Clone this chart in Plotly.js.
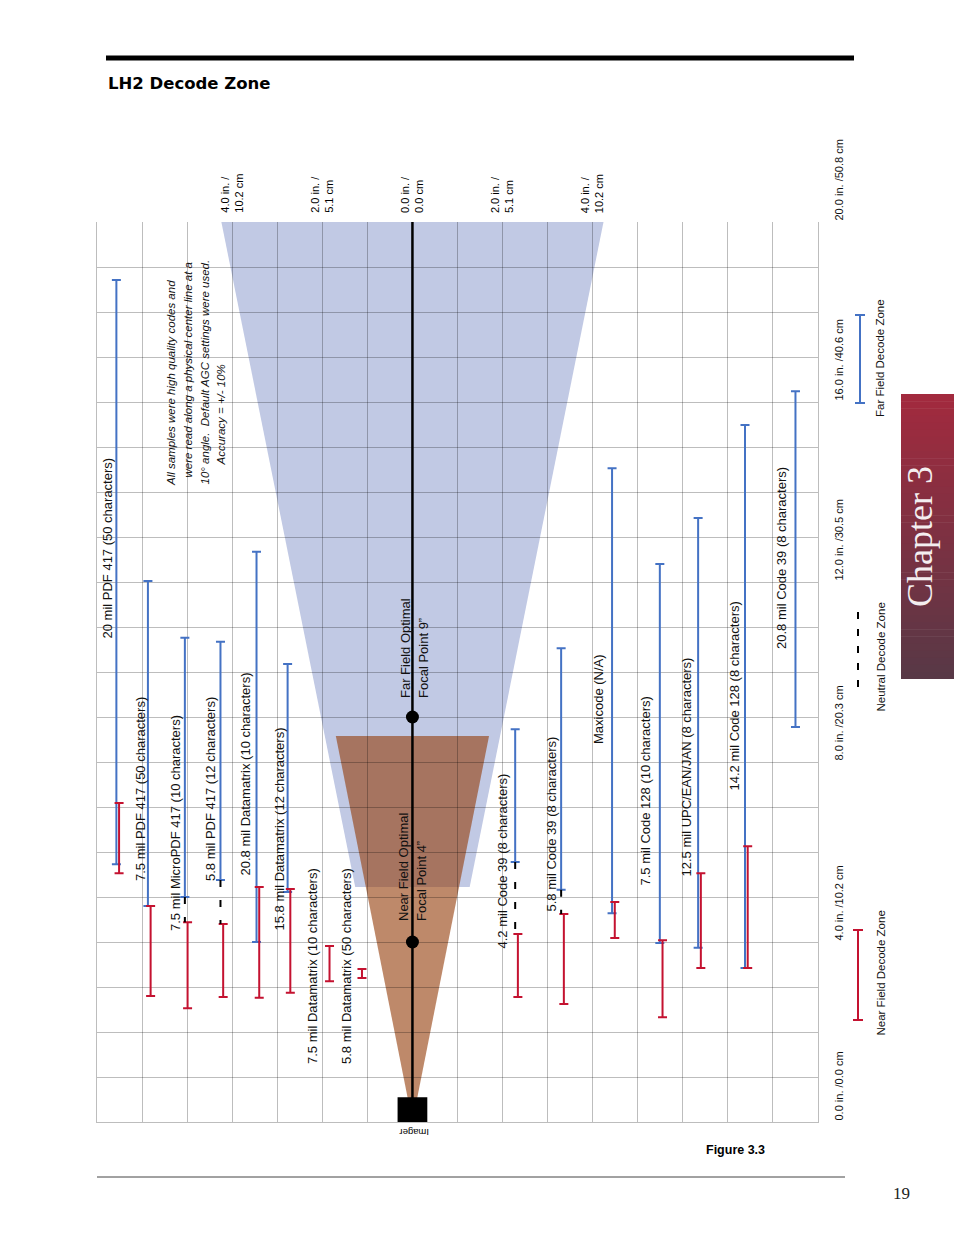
<!DOCTYPE html>
<html>
<head>
<meta charset="utf-8">
<script src="https://cdn.plot.ly/plotly-3.0.1.min.js"></script>
<style>
html,body{margin:0;padding:0;background:#fff;}
#chart{width:954px;height:1235px;}
</style>
</head>
<body>
<div id="chart"></div>
<script>
// ================= DATA (inches) =================
const codeNames = [
  '20 mil PDF 417 (50 characters)',
  '7.5 mil PDF 417 (50 characters)',
  '7.5 mil MicroPDF 417 (10 characters)',
  '5.8 mil PDF 417 (12 characters)',
  '20.8 mil Datamatrix (10 characters)',
  '15.8 mil Datamatrix (12 characters)',
  '7.5 mil Datamatrix (10 characters)',
  '5.8 mil Datamatrix (50 characters)',
  '4.2 mil Code 39 (8 characters)',
  '5.8 mil Code 39 (8 characters)',
  'Maxicode (N/A)',
  '7.5 mil Code 128 (10 characters)',
  '12.5 mil UPC/EAN/JAN (8 characters)',
  '14.2 mil Code 128 (8 characters)',
  '20.8 mil Code 39 (8 characters)'
];
// lateral lane of each code's range bar
const lanePos = [-6.57, -5.87, -5.05, -4.26, -3.46, -2.77, -1.90, -1.18, 2.28, 3.30, 4.43, 5.49, 6.34, 7.38, 8.50];
// far field decode zone (min / max distance)
const farMin  = [5.73, 4.80, 5.00, 5.38, 4.00, 5.11, null, null, 5.78, 5.16, 4.64, 3.98, 3.87, 3.42, 8.78];
const farMax  = [18.71, 12.02, 10.76, 10.67, 12.67, 10.18, null, null, 8.73, 10.53, 14.53, 12.40, 13.42, 15.49, 16.24];
// near field decode zone
const nearMin = [5.53, 2.80, 2.53, 2.78, 2.76, 2.87, 3.13, 3.20, 2.78, 2.62, 4.09, 2.33, 3.42, 3.42, null];
const nearMax = [7.09, 4.80, 4.44, 4.40, 5.22, 5.18, 3.91, 3.40, 4.18, 4.62, 4.89, 4.04, 5.53, 6.13, null];
// neutral decode zone present between near max and far min
const hasNeutral = [false, false, true, true, false, false, false, false, true, true, false, false, false, false, false];

const focalDist = [4, 9];
const focalLine1 = ['Near Field Optimal', 'Far Field Optimal'];
const focalLine2 = ['Focal Point 4\u201D', 'Focal Point 9\u201D'];

// field-of-view cones: distance and half width
const farConeDist = [20, 5.22];
const farConeHalf = [4.24, 1.27];
const nearConeDist = [8.58, 0];
const nearConeHalf = [1.70, 0];

const imagerDepth = 0.55;
const imagerHalf = 0.33;
const maxDist = 20;

const distTickVals = [0, 4, 8, 12, 16, 20];
const distTickText = ['0.0 in. /0.0 cm', '4.0 in. /10.2 cm', '8.0 in. /20.3 cm', '12.0 in. /30.5 cm', '16.0 in. /40.6 cm', '20.0 in. /50.8 cm'];
const latTickVals = [-4, -2, 0, 2, 4];
const latTickText = ['4.0 in. /<br>10.2 cm', '2.0 in. /<br>5.1 cm', '0.0 in. /<br>0.0 cm', '2.0 in. /<br>5.1 cm', '4.0 in. /<br>10.2 cm'];

const legendNames = ['Far Field Decode Zone', 'Neutral Decode Zone', 'Near Field Decode Zone'];
const noteLines = [
  'All samples were high quality codes and',
  'were read along a physical center line at a',
  '10\u00B0 angle.  Default AGC settings were used.',
  'Accuracy = +/- 10%'
];

// ================= STYLE / LAYOUT =================
const BLUE = '#4472c4';
const RED = '#c41230';
const GRID = 'rgba(0,0,0,0.26)';
const FONT = 'Liberation Sans, Arial, sans-serif';
const L = 97, R = 818, T = 222, B = 1122;
const pX = p => (p - L) / (R - L);
const pY = p => (B - p) / (B - T);
const nearShift = 0.06;

const labelPx = [107, 140, 175, 210, 245, 279, 312, 346, 502, 551, 598, 645, 686, 734, 781];
const labelPy = [640, 882, 932, 882, 877, 932, 1065, 1065, 950, 913, 745, 887, 878, 792, 650];

const traces = [];
traces.push({
  type: 'scatter', mode: 'markers', x: lanePos, y: farMin,
  marker: {size: 1, opacity: 0},
  error_y: {type: 'data', symmetric: false,
    array: farMax.map((v, i) => v == null ? null : v - farMin[i]),
    arrayminus: farMin.map(v => v == null ? null : 0),
    color: BLUE, thickness: 2, width: 4.5},
  hoverinfo: 'skip', showlegend: false
});
traces.push({
  type: 'scatter', mode: 'markers', x: lanePos.map(v => v + nearShift), y: nearMin,
  marker: {size: 1, opacity: 0},
  error_y: {type: 'data', symmetric: false,
    array: nearMax.map((v, i) => v == null ? null : v - nearMin[i]),
    arrayminus: nearMin.map(v => v == null ? null : 0),
    color: RED, thickness: 2, width: 4.5},
  hoverinfo: 'skip', showlegend: false
});
const nx = [], ny = [];
hasNeutral.forEach((h, i) => {
  if (h) { nx.push(lanePos[i], lanePos[i], null); ny.push(farMin[i], nearMax[i], null); }
});
traces.push({type: 'scatter', mode: 'lines', x: nx, y: ny,
  line: {color: '#000', width: 2, dash: '7px,13px'}, hoverinfo: 'skip', showlegend: false});
// center line and focal points
traces.push({type: 'scatter', mode: 'lines', x: [0, 0], y: [0, maxDist],
  line: {color: '#000', width: 2.5}, hoverinfo: 'skip', showlegend: false});
traces.push({type: 'scatter', mode: 'markers', x: focalDist.map(() => 0), y: focalDist,
  marker: {color: '#000', size: 13}, hoverinfo: 'skip', showlegend: false});

function conePath(d, h) {
  return 'M ' + (-h[0]) + ',' + d[0] + ' L ' + h[0] + ',' + d[0] +
         ' L ' + h[1] + ',' + d[1] + ' L ' + (-h[1]) + ',' + d[1] + ' Z';
}
const shapes = [
  {type: 'path', xref: 'x', yref: 'y', layer: 'below', path: conePath(farConeDist, farConeHalf),
   fillcolor: '#c1c9e4', line: {width: 0}},
  {type: 'path', xref: 'x', yref: 'y', layer: 'below', path: conePath(nearConeDist, nearConeHalf),
   fillcolor: 'rgba(150,64,14,0.62)', line: {width: 0}},
  {type: 'rect', xref: 'x', yref: 'y', layer: 'above', x0: -imagerHalf, x1: imagerHalf, y0: 0, y1: imagerDepth,
   fillcolor: '#000', line: {width: 0}},
  // page decorations
  {type: 'rect', xref: 'paper', yref: 'paper', x0: pX(106), x1: pX(854), y0: pY(60.5), y1: pY(55.5),
   fillcolor: '#000', line: {width: 0}},
  {type: 'line', xref: 'paper', yref: 'paper', x0: pX(97), x1: pX(845), y0: pY(1177), y1: pY(1177),
   line: {color: '#444', width: 1}},
  // legend glyphs
  {type: 'line', xref: 'paper', yref: 'paper', x0: pX(860), x1: pX(860), y0: pY(315), y1: pY(403), line: {color: BLUE, width: 2}},
  {type: 'line', xref: 'paper', yref: 'paper', x0: pX(855), x1: pX(865), y0: pY(315), y1: pY(315), line: {color: BLUE, width: 2}},
  {type: 'line', xref: 'paper', yref: 'paper', x0: pX(855), x1: pX(865), y0: pY(403), y1: pY(403), line: {color: BLUE, width: 2}},
  {type: 'line', xref: 'paper', yref: 'paper', x0: pX(858), x1: pX(858), y0: pY(612), y1: pY(692), line: {color: '#000', width: 2, dash: '7px,10px'}},
  {type: 'line', xref: 'paper', yref: 'paper', x0: pX(858), x1: pX(858), y0: pY(930), y1: pY(1020), line: {color: RED, width: 2}},
  {type: 'line', xref: 'paper', yref: 'paper', x0: pX(853), x1: pX(863), y0: pY(930), y1: pY(930), line: {color: RED, width: 2}},
  {type: 'line', xref: 'paper', yref: 'paper', x0: pX(853), x1: pX(863), y0: pY(1020), y1: pY(1020), line: {color: RED, width: 2}}
];
// Chapter tab gradient
const N = 40, cTop = [162, 42, 62], cBot = [88, 56, 70];
for (let k = 0; k < N; k++) {
  const t = k / (N - 1);
  const c = cTop.map((v, j) => Math.round(v + (cBot[j] - v) * t));
  const y0 = 394 + k * (285 / N), y1 = y0 + 285 / N + 0.6;
  shapes.push({type: 'rect', xref: 'paper', yref: 'paper', layer: 'above',
    x0: pX(901), x1: pX(954), y0: pY(Math.min(y1, 679)), y1: pY(y0),
    fillcolor: 'rgb(' + c.join(',') + ')', line: {width: 0}});
}

function ann(text, px, py, o) {
  return Object.assign({xref: 'paper', yref: 'paper', x: pX(px), y: pY(py), text: text, showarrow: false,
    textangle: -90, xanchor: 'center', yanchor: 'bottom', borderpad: 0,
    font: {family: FONT, size: 13, color: '#111'}}, o || {});
}
const annotations = [];
codeNames.forEach((n, i) => annotations.push(ann(n, labelPx[i], labelPy[i])));
annotations.push(ann(focalLine1[1], 405, 699));
annotations.push(ann(focalLine2[1], 423, 699));
annotations.push(ann(focalLine1[0], 403, 922));
annotations.push(ann(focalLine2[0], 421, 922));
const notePx = [171, 187, 204, 220], notePy = [487, 479, 486, 467];
noteLines.forEach((t, i) => annotations.push(ann('<i>' + t + '</i>', notePx[i], notePy[i],
  {font: {family: FONT, size: 11.5, color: '#111'}})));
latTickVals.forEach((v, i) => annotations.push(ann(latTickText[i], 0, 214,
  {x: (v + 7) / 16, align: 'left', font: {family: FONT, size: 11, color: '#000'}})));
distTickVals.forEach((v, i) => annotations.push(ann(distTickText[i], 838, 0,
  {y: v / maxDist, font: {family: FONT, size: 11, color: '#111'}})));
annotations.push(ann(legendNames[0], 880, 418, {font: {family: FONT, size: 11.5, color: '#111'}}));
annotations.push(ann(legendNames[1], 880, 713, {font: {family: FONT, size: 11.5, color: '#111'}}));
annotations.push(ann(legendNames[2], 880, 1037, {font: {family: FONT, size: 11.5, color: '#111'}}));
annotations.push(ann('Imager', 414, 1126, {textangle: 180, yanchor: 'top', font: {family: FONT, size: 9.5, color: '#000'}}));
annotations.push(ann('<b>LH2 Decode Zone</b>', 107, 83, {textangle: 0, xanchor: 'left', yanchor: 'middle',
  font: {family: 'DejaVu Sans, Verdana, sans-serif', size: 16.5, color: '#000'}}));
annotations.push(ann('<b>Figure 3.3</b>', 735, 1150, {textangle: 0, yanchor: 'middle',
  font: {family: FONT, size: 12.5, color: '#000'}}));
annotations.push(ann('19', 901, 1193, {textangle: 0, yanchor: 'middle',
  font: {family: 'Liberation Serif, Times New Roman, serif', size: 17, color: '#222'}}));
annotations.push(ann('Chapter 3', 920, 537, {yanchor: 'middle',
  font: {family: 'Liberation Serif, Times New Roman, serif', size: 36, color: '#f4eef0'}}));

const xGrid = [], yGrid = [];
for (let v = -6; v <= 8; v++) xGrid.push(v);
for (let v = 1; v <= 19; v++) yGrid.push(v);

const layout = {
  width: 954, height: 1235,
  margin: {l: L, r: 954 - R, t: T, b: 1235 - B, pad: 0},
  paper_bgcolor: '#fff', plot_bgcolor: '#fff', showlegend: false,
  xaxis: {range: [-7, 9], tickmode: 'array', tickvals: xGrid, showticklabels: false, ticks: '',
    showgrid: true, gridcolor: GRID, gridwidth: 1, zeroline: false,
    showline: true, linecolor: GRID, linewidth: 1, fixedrange: true},
  yaxis: {range: [0, maxDist], tickmode: 'array', tickvals: yGrid, showticklabels: false, ticks: '',
    showgrid: true, gridcolor: GRID, gridwidth: 1, zeroline: false,
    showline: true, mirror: true, linecolor: GRID, linewidth: 1, fixedrange: true},
  shapes: shapes,
  annotations: annotations
};
Plotly.newPlot('chart', traces, layout, {displayModeBar: false, staticPlot: true});
</script>
</body>
</html>
